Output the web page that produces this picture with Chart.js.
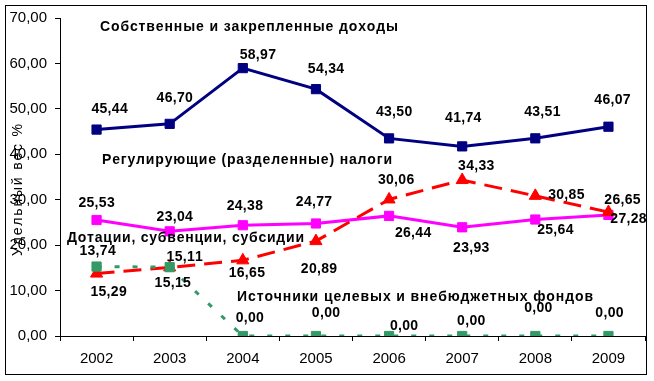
<!DOCTYPE html>
<html>
<head>
<meta charset="utf-8">
<script src="https://cdn.jsdelivr.net/npm/chart.js@4/dist/chart.umd.min.js"></script>
<style>
html,body{margin:0;padding:0;background:#fff;}
canvas{display:block;}
</style>
</head>
<body>
<canvas id="c" width="654" height="381"></canvas>
<script>
// ---- data ----
const years = ['2002','2003','2004','2005','2006','2007','2008','2009'];
const ownRevenue      = [45.44, 46.70, 58.97, 54.34, 43.50, 41.74, 43.51, 46.07];
const regulatingTaxes = [25.53, 23.04, 24.38, 24.77, 26.44, 23.93, 25.64, 26.65];
const subsidies       = [13.74, 15.11, 16.65, 20.89, 30.06, 34.33, 30.85, 27.28];
const targetFunds     = [15.29, 15.15, 0.00, 0.00, 0.00, 0.00, 0.00, 0.00];
const seriesNames = [
  'Собственные и закрепленные доходы',
  'Регулирующие (разделенные) налоги',
  'Дотации, субвенции, субсидии',
  'Источники целевых и внебюджетных фондов'
];
const yAxisTitle = 'Удельный вес %';
const yMin = 0, yMax = 70, yStep = 10;

// ---- presentation (label placement offsets in px, per point) ----
const labelOffsets = [
  [[13,-20],[5,-26],[15,-13],[10,-20],[5,-26],[1,-28],[7,-26],[4,-27]],
  [[0,-17],[5,-14],[2,-19],[-2,-21],[24,17],[9,21],[20,11],[14,-15]],
  [[1,-22],[15,-10],[4,13],[3,28],[7,-19],[14,-14],[31,-1],[20,7]],
  [[12,26],[3,16],[7,-18],[10,-23],[15,-10],[9,-15],[3,-28],[1,-23]]
];
const annotations = [
  {i:0, x:249, y:27, w:298},
  {i:1, x:247, y:160, w:290},
  {i:2, x:185.5, y:238, w:237},
  {i:3, x:415, y:297, w:356}
];
const FONT = '"Liberation Sans", Arial, sans-serif';

function fmt(v){ return v.toFixed(2).replace('.', ','); }

function drawSpaced(ctx, text, cx, cy, width, spacing){
  const chars = Array.from(text);
  const ws = chars.map(c => ctx.measureText(c).width);
  const total = ws.reduce((a,b)=>a+b,0);
  let sp = spacing;
  if (width != null) sp = (width - total) / (chars.length - 1);
  const full = total + sp * (chars.length - 1);
  let x = cx - full / 2;
  ctx.textAlign = 'left';
  ctx.textBaseline = 'middle';
  chars.forEach((c, k) => { ctx.fillText(c, x, cy); x += ws[k] + sp; });
}

const decor = {
  id: 'decor',
  beforeDraw(chart){
    const ctx = chart.ctx;
    ctx.save();
    ctx.fillStyle = '#fff';
    ctx.fillRect(0,0,chart.width,chart.height);
    ctx.strokeStyle = '#000';
    ctx.lineWidth = 1;
    ctx.strokeRect(5.5, 5.5, 641, 369);
    // y axis title
    ctx.translate(18, 190);
    ctx.rotate(-Math.PI/2);
    ctx.fillStyle = '#000';
    ctx.font = '14px ' + FONT;
    drawSpaced(ctx, yAxisTitle, 0, 0, 132);
    ctx.restore();
  },
  afterDatasetsDraw(chart){
    const ctx = chart.ctx;
    ctx.save();
    ctx.fillStyle = '#000';
    ctx.font = 'bold 14px ' + FONT;
    chart.data.datasets.forEach((ds, di) => {
      const meta = chart.getDatasetMeta(di);
      meta.data.forEach((pt, pi) => {
        const off = labelOffsets[di][pi];
        drawSpaced(ctx, fmt(ds.data[pi]), pt.x + off[0], pt.y + off[1], null, 0.3);
      });
    });
    annotations.forEach(a => drawSpaced(ctx, seriesNames[a.i], a.x, a.y, a.w));
    ctx.restore();
  }
};

new Chart(document.getElementById('c'), {
  type: 'line',
  data: {
    labels: years,
    datasets: [
      {label: seriesNames[0], data: ownRevenue, borderColor:'#000080', backgroundColor:'#000080',
       borderWidth:3, pointStyle:'rect', pointRadius:6.5, pointBorderWidth:1, order:3},
      {label: seriesNames[1], data: regulatingTaxes, borderColor:'#FF00FF', backgroundColor:'#FF00FF',
       borderWidth:3, pointStyle:'rect', pointRadius:6.5, pointBorderWidth:1, order:2},
      {label: seriesNames[2], data: subsidies, borderColor:'#FF0000', backgroundColor:'#FF0000',
       borderWidth:3, borderDash:[18,9], pointStyle:'triangle', pointRadius:7, pointBorderWidth:1, order:1},
      {label: seriesNames[3], data: targetFunds, borderColor:'#339966', backgroundColor:'#339966',
       borderWidth:3, borderDash:[5,13], pointStyle:'rect', pointRadius:6.5, pointBorderWidth:1, order:0}
    ]
  },
  options: {
    responsive:false,
    animation:false,
    layout:{padding:{top:18, right:9, left:0, bottom:0}},
    plugins:{legend:{display:false}, tooltip:{enabled:false}, title:{display:false}},
    elements:{line:{tension:0, borderCapStyle:'butt'}},
    scales:{
      x:{
        offset:true,
        grid:{offset:true, drawOnChartArea:false, drawTicks:true, tickLength:5, color:'#000'},
        border:{display:true, color:'#000', width:1},
        ticks:{color:'#000', font:{family:FONT, size:15}, padding:9, maxRotation:0},
        afterFit(s){ s.height = 45; }
      },
      y:{
        min:yMin, max:yMax,
        grid:{drawOnChartArea:false, drawTicks:true, tickLength:5, color:'#000'},
        border:{display:true, color:'#000', width:1},
        ticks:{stepSize:yStep, color:'#000', font:{family:FONT, size:15}, padding:8,
               callback:(v)=>fmt(v)},
        afterFit(s){ s.width = 60; }
      }
    }
  },
  plugins:[decor]
});
</script>
</body>
</html>
